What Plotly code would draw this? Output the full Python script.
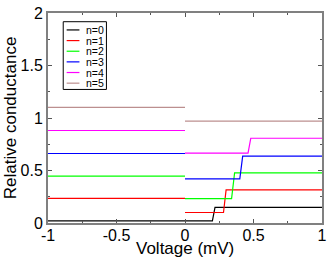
import plotly.graph_objects as go

# ---- data ----
series_names = ["n=0", "n=1", "n=2", "n=3", "n=4", "n=5"]
series_colors = ["#000000", "#ff0000", "#00ff00", "#0000ff", "#ff00ff", "#bc8f8f"]
left_level = [0.02, 0.235, 0.447, 0.662, 0.881, 1.102]    # V < 0
right_low = [0.02, 0.10, 0.232, 0.42, 0.665, 0.97]        # 0 < V < step
right_high = [0.149, 0.315, 0.478, 0.637, 0.807, 0.97]    # V > step
step_start = [0.20, 0.281, 0.34, 0.40, 0.46, None]
step_end = [0.219, 0.30, 0.362, 0.421, 0.48, None]

x_tickvals = [-1, -0.5, 0, 0.5, 1]
x_ticktext = ["-1", "-0.5", "0", "0.5", "1"]
y_tickvals = [0, 0.5, 1, 1.5, 2]
y_ticktext = ["0", "0.5", "1", "1.5", "2"]

W, H = 332, 261
ML, MR, MT, MB = 48, 5, 6, 38
PW, PH = W - ML - MR, H - MT - MB

fig = go.Figure()
for i, name in enumerate(series_names):
    if step_start[i] is None:
        xs = [-1, 0, None, 0, 1]
        ys = [left_level[i], left_level[i], None, right_low[i], right_high[i]]
    else:
        xs = [-1, 0, None, 0, step_start[i], step_end[i], 1]
        ys = [left_level[i], left_level[i], None,
              right_low[i], right_low[i], right_high[i], right_high[i]]
    fig.add_trace(go.Scatter(x=xs, y=ys, mode="lines", name=name,
                             line=dict(color=series_colors[i], width=1.2),
                             showlegend=False, connectgaps=False))

# ---- manual legend (paper coordinates computed from pixel layout) ----
def px_x(p):
    return (p - ML) / PW

def px_y(p):
    return (H - MB - p) / PH

shapes = [dict(type="rect", xref="paper", yref="paper",
               x0=px_x(63.5), x1=px_x(107.5), y0=px_y(85), y1=px_y(15),
               line=dict(color="#000000", width=1), fillcolor="white", layer="above")]
annotations = []
for i, name in enumerate(series_names):
    yy = px_y(23.5 + 11 * i)
    shapes.append(dict(type="line", xref="paper", yref="paper",
                       x0=px_x(67), x1=px_x(80), y0=yy, y1=yy,
                       line=dict(color=series_colors[i], width=1.2), layer="above"))
    annotations.append(dict(text=name, xref="paper", yref="paper",
                            x=px_x(85), y=yy, xanchor="left", yanchor="middle",
                            showarrow=False, font=dict(size=10.5, color="#000000")))

# axis titles
annotations.append(dict(text="Voltage (mV)", xref="paper", yref="paper",
                        x=px_x(188), y=px_y(249), xanchor="center", yanchor="middle",
                        showarrow=False, font=dict(size=17, color="#000000")))
annotations.append(dict(text="Relative conductance", xref="paper", yref="paper",
                        x=px_x(10), y=px_y(114), xanchor="center", yanchor="middle",
                        textangle=-90, showarrow=False,
                        font=dict(size=17, color="#000000")))

axis_common = dict(showline=True, linecolor="#808080", linewidth=2, mirror="ticks",
                   ticks="inside", ticklen=4, tickcolor="#555555", tickwidth=1,
                   showgrid=False, zeroline=False, ticklabeloverflow="allow",
                   tickfont=dict(size=16, color="#000000"))

fig.update_layout(
    width=W, height=H,
    margin=dict(l=ML, r=MR, t=MT, b=MB),
    paper_bgcolor="white", plot_bgcolor="white",
    font=dict(family="Liberation Sans, Arial, sans-serif", color="#000000"),
    showlegend=False,
    xaxis=dict(range=[-1, 1], tickvals=x_tickvals, ticktext=x_ticktext,
               ticklabelstandoff=-3,
               minor=dict(ticks="inside", ticklen=2, tickcolor="#555555", dtick=0.25),
               **axis_common),
    yaxis=dict(range=[0, 2], tickvals=y_tickvals, ticktext=y_ticktext,
               minor=dict(ticks="inside", ticklen=2, tickcolor="#555555", dtick=0.25),
               **axis_common),
    shapes=shapes,
    annotations=annotations,
)

fig.write_html(
    "out.html",
    config={"displayModeBar": False},
    post_script="document.body.style.margin='0';document.body.style.padding='0';"
                "document.documentElement.style.overflow='hidden';",
)
